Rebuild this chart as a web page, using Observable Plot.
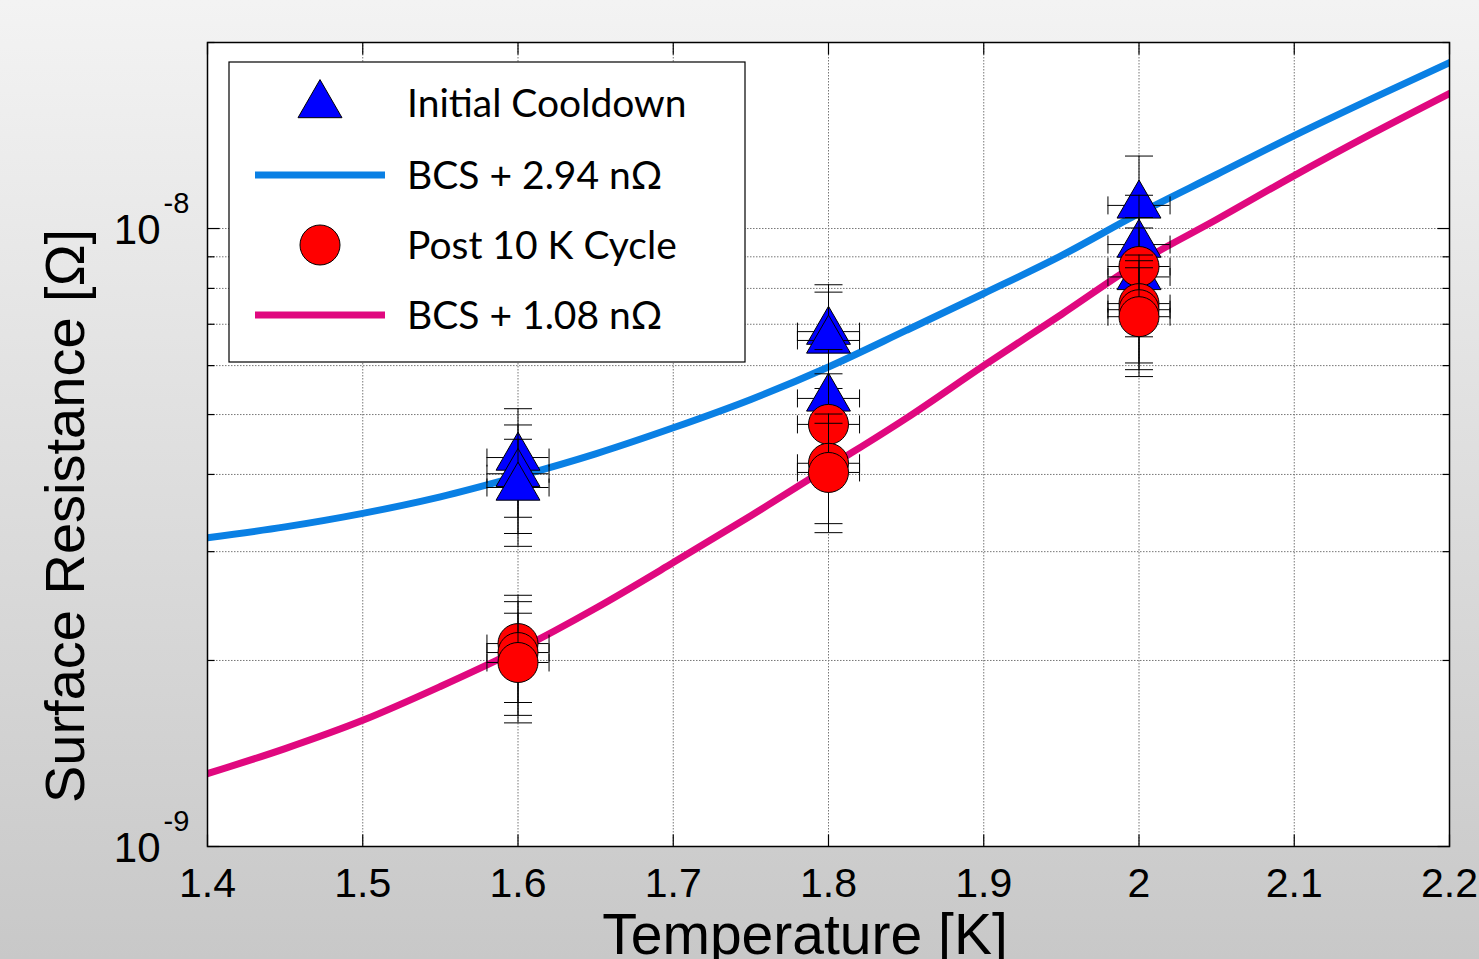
<!DOCTYPE html>
<html><head><meta charset="utf-8">
<script src="https://cdn.jsdelivr.net/npm/d3@7"></script>
<script src="https://cdn.jsdelivr.net/npm/@observablehq/plot@0.6"></script>
<style>
html,body{margin:0;padding:0;width:1479px;height:959px;overflow:hidden;background:linear-gradient(#f3f3f3,#c8c8c8);}
#chart{position:relative;width:1479px;height:959px;}
</style></head><body><div id="chart"></div>
<script>
// ---- data ----
const temps = [1.4,1.45,1.5,1.55,1.6,1.65,1.7,1.75,1.8,1.85,1.9,1.95,2.0,2.05,2.1,2.15,2.2];
const bcsHigh = [3.16e-9,3.29e-9,3.46e-9,3.68e-9,3.97e-9,4.32e-9,4.76e-9,5.29e-9,5.97e-9,6.84e-9,7.85e-9,9.04e-9,1.058e-8,1.223e-8,1.414e-8,1.623e-8,1.856e-8];
const bcsLow  = [1.312e-9,1.44e-9,1.6e-9,1.815e-9,2.08e-9,2.43e-9,2.88e-9,3.43e-9,4.11e-9,4.93e-9,6.0e-9,7.26e-9,8.81e-9,1.034e-8,1.218e-8,1.424e-8,1.654e-8];

const triT   = [1.6,1.6,1.6,1.8,1.8,1.8,2.0,2.0,2.0];
const triR   = [4.26e-9,4.01e-9,3.81e-9,6.81e-9,6.59e-9,5.31e-9,1.09e-8,9.42e-9,8.35e-9];
const triErr = [0.85e-9,0.8e-9,0.75e-9,1.3e-9,1.3e-9,1.06e-9,2.2e-9,1.9e-9,1.67e-9];

const cirT   = [1.6,1.6,1.6,1.8,1.8,1.8,2.0,2.0,2.0,2.0];
const cirR   = [2.13e-9,2.06e-9,1.985e-9,4.82e-9,4.17e-9,4.03e-9,8.68e-9,7.56e-9,7.39e-9,7.2e-9];
const cirErr = [0.42e-9,0.43e-9,0.4e-9,1.0e-9,0.84e-9,0.81e-9,1.74e-9,1.5e-9,1.48e-9,1.44e-9];
const tempErr = 0.02;

const xTicks = [1.4,1.5,1.6,1.7,1.8,1.9,2.0,2.1,2.2];
const xTickLabels = ["1.4","1.5","1.6","1.7","1.8","1.9","2","2.1","2.2"];
const yMajor = [1e-9,1e-8];
const yMajorBase = ["10","10"];
const yMajorExp = ["-9","-8"];
const yMinor = [2e-9,3e-9,4e-9,5e-9,6e-9,7e-9,8e-9,9e-9,2e-8];

const xTitle = "Temperature [K]";
const yTitle = "Surface Resistance [Ω]";
const legendLabels = ["Initial Cooldown","BCS + 2.94 nΩ","Post 10 K Cycle","BCS + 1.08 nΩ"];

// ---- styles ----
const BLUE_LINE = "#0a80e4", PINK_LINE = "#e0087f";
const TRI_FILL = "#0000ff", CIR_FILL = "#ff0000";
const AXFONT = "'Liberation Sans', Arial, sans-serif";

const triangles = triT.map((t,i)=>({t, r: triR[i], e: triErr[i]}));
const circles = cirT.map((t,i)=>({t, r: cirR[i], e: cirErr[i]}));
const curveHigh = temps.map((t,i)=>({t, r: bcsHigh[i]}));
const curveLow = temps.map((t,i)=>({t, r: bcsLow[i]}));

const capV = {draw(c){c.moveTo(-14,0);c.lineTo(14,0);}};
const capH = {draw(c){c.moveTo(0,-9);c.lineTo(0,9);}};
const tUp = {draw(c){c.moveTo(0,0);c.lineTo(0,-12);}};
const tDown = {draw(c){c.moveTo(0,0);c.lineTo(0,12);}};
const tRight = {draw(c){c.moveTo(0,0);c.lineTo(12,0);}};
const tLeft = {draw(c){c.moveTo(0,0);c.lineTo(-12,0);}};
const tRightS = {draw(c){c.moveTo(0,0);c.lineTo(7,0);}};
const tLeftS = {draw(c){c.moveTo(0,0);c.lineTo(-7,0);}};

function errMarks(d){
  return [
    Plot.ruleX([d], {x:"t", y1: p=>p.r-p.e, y2: p=>p.r+p.e, stroke:"black", strokeWidth:1}),
    Plot.ruleY([d], {y:"r", x1: p=>p.t-tempErr, x2: p=>p.t+tempErr, stroke:"black", strokeWidth:1}),
    Plot.dot([d.r-d.e, d.r+d.e], {x: ()=>d.t, y: v=>v, symbol: capV, stroke:"black", fill:"none", strokeWidth:1}),
    Plot.dot([d.t-tempErr, d.t+tempErr], {x: v=>v, y: ()=>d.r, symbol: capH, stroke:"black", fill:"none", strokeWidth:1})
  ];
}

const gridStyle = {stroke:"#777", strokeDasharray:"1.5,1.5", strokeWidth:1};

const chart = Plot.plot({
  width: 1479, height: 959,
  marginLeft: 207, marginRight: 30, marginTop: 42, marginBottom: 113,
  style: {background:"transparent", overflow:"visible"},
  x: {type:"linear", domain:[1.4,2.2], axis:null},
  y: {type:"log", domain:[1e-9,2e-8], axis:null},
  marks: [
    Plot.frame({fill:"white", stroke:"none"}),
    Plot.ruleX(xTicks, {x: d=>d, ...gridStyle}),
    Plot.ruleY(yMajor.concat(yMinor), {y: d=>d, ...gridStyle}),
    Plot.line(curveHigh, {x:"t", y:"r", stroke: BLUE_LINE, strokeWidth:7, curve:"monotone-x", clip:true}),
    Plot.line(curveLow, {x:"t", y:"r", stroke: PINK_LINE, strokeWidth:7, curve:"monotone-x", clip:true}),
    ...triangles.flatMap(d => [...errMarks(d), Plot.dot([d], {x:"t", y:"r", symbol:"triangle", r:16.3, fill:TRI_FILL, stroke:"black", strokeWidth:1})]),
    ...circles.flatMap(d => [...errMarks(d), Plot.dot([d], {x:"t", y:"r", symbol:"circle", r:20, fill:CIR_FILL, stroke:"black", strokeWidth:1})]),
    // inward ticks
    Plot.dot(xTicks, {x: d=>d, frameAnchor:"bottom", symbol:tUp, stroke:"black", fill:"none", strokeWidth:1.2}),
    Plot.dot(xTicks, {x: d=>d, frameAnchor:"top", symbol:tDown, stroke:"black", fill:"none", strokeWidth:1.2}),
    Plot.dot(yMajor, {y: d=>d, frameAnchor:"left", symbol:tRight, stroke:"black", fill:"none", strokeWidth:1.2}),
    Plot.dot(yMajor, {y: d=>d, frameAnchor:"right", symbol:tLeft, stroke:"black", fill:"none", strokeWidth:1.2}),
    Plot.dot(yMinor, {y: d=>d, frameAnchor:"left", symbol:tRightS, stroke:"black", fill:"none", strokeWidth:1.2}),
    Plot.dot(yMinor, {y: d=>d, frameAnchor:"right", symbol:tLeftS, stroke:"black", fill:"none", strokeWidth:1.2}),
    Plot.frame({stroke:"black", strokeWidth:1.5}),
    // tick labels
    Plot.text(xTicks, {x: d=>d, text:(d,i)=>xTickLabels[i], frameAnchor:"bottom", dy:50, fontSize:41, fontFamily:AXFONT, fill:"black"}),
    Plot.text(yMajor, {y: d=>d, text:(d,i)=>yMajorBase[i], frameAnchor:"left", dx:-47, dy:2, textAnchor:"end", fontSize:42, fontFamily:AXFONT, fill:"black"}),
    Plot.text(yMajor, {y: d=>d, text:(d,i)=>yMajorExp[i], frameAnchor:"left", dx:-44, dy:-25, textAnchor:"start", fontSize:29, fontFamily:AXFONT, fill:"black"})
  ]
});
document.getElementById("chart").appendChild(chart);

const svg = d3.select(chart);
// axis titles
svg.append("text").attr("x",805).attr("y",954).attr("text-anchor","middle")
  .attr("font-family",AXFONT).attr("font-size",57).attr("fill","black").text(xTitle);
svg.append("text").attr("transform","translate(84,516) rotate(-90)").attr("text-anchor","middle")
  .attr("font-family",AXFONT).attr("font-size",56).attr("fill","black").text(yTitle);

// ---- legend ----
const lg = svg.append("g").attr("class","legend");
lg.append("rect").attr("x",229).attr("y",62).attr("width",516).attr("height",300).attr("fill","white").attr("stroke","black").attr("stroke-width",1.2);
const rowY = [103,175,245,315];
lg.append("path").attr("d", d3.symbol(d3.symbolTriangle, 838)()).attr("transform",`translate(320,${rowY[0]+2})`).attr("fill",TRI_FILL).attr("stroke","black");
lg.append("line").attr("x1",255).attr("x2",385).attr("y1",rowY[1]).attr("y2",rowY[1]).attr("stroke",BLUE_LINE).attr("stroke-width",7);
lg.append("circle").attr("cx",320).attr("cy",rowY[2]).attr("r",20).attr("fill",CIR_FILL).attr("stroke","black");
lg.append("line").attr("x1",255).attr("x2",385).attr("y1",rowY[3]).attr("y2",rowY[3]).attr("stroke",PINK_LINE).attr("stroke-width",7);
legendLabels.forEach((s,i)=>{
  lg.append("text").attr("x",407).attr("y",rowY[i]+14).attr("text-anchor","start")
    .attr("font-family","Lato, 'Open Sans', sans-serif").attr("font-size",39).attr("fill","black").text(s);
});
</script>
</body></html>
